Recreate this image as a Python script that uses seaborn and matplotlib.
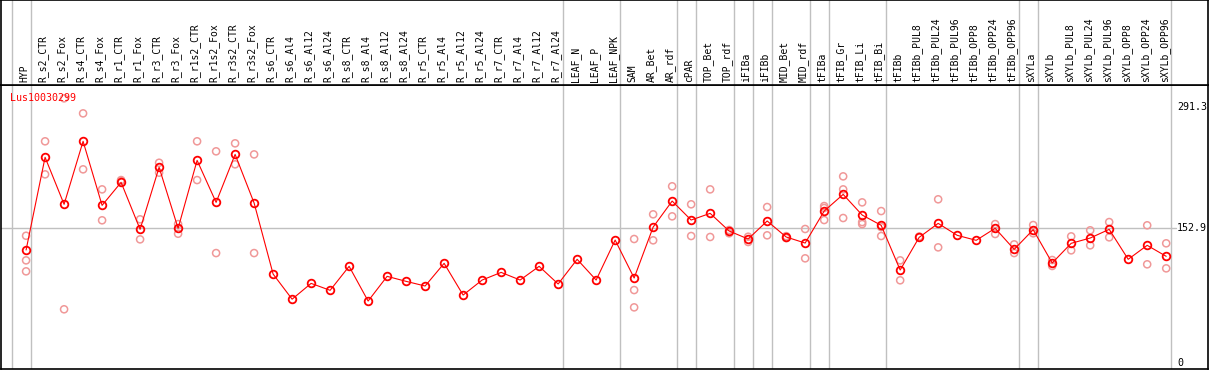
import numpy as np
import pandas as pd
import matplotlib
matplotlib.use("Agg")
import matplotlib.pyplot as plt
import seaborn as sns

title = "Lus10030299"
categories = ["HYP", "R_s2_CTR", "R_s2_Fox", "R_s4_CTR", "R_s4_Fox", "R_r1_CTR", "R_r1_Fox",
              "R_r3_CTR", "R_r3_Fox", "R_r1s2_CTR", "R_r1s2_Fox", "R_r3s2_CTR", "R_r3s2_Fox",
              "R_s6_CTR", "R_s6_Al4", "R_s6_Al12", "R_s6_Al24", "R_s8_CTR", "R_s8_Al4",
              "R_s8_Al12", "R_s8_Al24", "R_r5_CTR", "R_r5_Al4", "R_r5_Al12", "R_r5_Al24",
              "R_r7_CTR", "R_r7_Al4", "R_r7_Al12", "R_r7_Al24", "LEAF_N", "LEAF_P", "LEAF_NPK",
              "SAM", "AR_Bet", "AR_rdf", "cPAR", "TOP_Bet", "TOP_rdf", "iFIBa", "iFIBb",
              "MID_Bet", "MID_rdf", "tFIBa", "tFIB_Gr", "tFIB_Li", "tFIB_Bi", "tFIBb",
              "tFIBb_PUL8", "tFIBb_PUL24", "tFIBb_PUL96", "tFIBb_OPP8", "tFIBb_OPP24",
              "tFIBb_OPP96", "sXYLa", "sXYLb", "sXYLb_PUL8", "sXYLb_PUL24", "sXYLb_PUL96",
              "sXYLb_OPP8", "sXYLb_OPP24", "sXYLb_OPP96"]

means = [128.2, 233.7, 180.2, 251.9, 179.0, 205.2, 151.7, 222.3, 152.9, 230.2, 182.4, 237.0, 181.7,
         100.8, 72.2, 90.2, 82.3, 109.6, 70.1, 98.2, 92.5, 87.2, 113.0, 76.9, 94.0,
         102.7, 94.0, 109.6, 89.5, 117.6, 94.0, 139.5,
         96.3, 154.3, 183.9, 162.3, 169.9, 149.8, 140.7, 161.2, 143.0, 136.1,
         172.5, 191.5, 168.0, 156.3, 105.4, 142.6, 158.5, 144.9, 139.2, 152.9, 128.9,
         151.3, 113.4, 135.8, 141.8, 151.7, 117.6, 133.5, 121.0]

replicates = [
    [144.4, 116.4, 103.9], [251.9, 214.3], [300.8, 60.7], [283.7, 220.0], [197.2, 162.0],
    [207.8, 206.7], [163.1, 140.3], [227.5, 216.2], [157.7, 146.7], [251.9, 207.8],
    [240.5, 124.7], [249.6, 225.7], [237.0, 124.7],
    [], [], [], [], [], [], [], [], [], [], [], [], [], [], [], [], [], [], [],
    [140.7, 82.6, 62.9], [168.8, 139.2], [200.7, 166.5], [180.2, 144.1], [197.2, 143.0],
    [147.2, 151.0], [143.3, 137.3], [177.1, 144.9], [141.8, 144.0], [152.1, 118.7],
    [178.2, 162.3, 176.0], [212.0, 197.2, 164.6], [182.4, 160.0, 157.7], [172.5, 154.3, 144.1],
    [116.4, 93.7], [143.5], [185.9, 131.2], [], [], [157.7, 146.4], [134.6, 124.7],
    [156.6, 147.2], [116.8, 110.0], [143.7, 127.8], [150.6, 133.5], [160.0, 142.6], [],
    [156.3, 111.9], [135.8, 107.3]]

separators_after = [-1, 0, 28, 31, 34, 35, 37, 38, 39, 41, 42, 45, 52, 53, 60]
ref_values = [291.3, 152.9, 0]
ref_labels = ["291.3", "152.9", "0"]

W, H = 1209, 370
fig = plt.figure(figsize=(W / 100, H / 100), dpi=100)
sns.set_style("white")
plt.rcParams['font.family'] = ['DejaVu Sans Mono', 'DejaVu Sans']

def fx(px):
    return px / W

def fy(py):
    return 1 - py / H

ax = fig.add_axes([fx(1), fy(369.3), fx(1207), (369.3 - 85) / H])
hx = fig.add_axes([fx(1), fy(85), fx(1207), 85 / H])

xlim = (-1.32, 62.2)
ylim = (-7.6, 316.0)

x_idx = np.arange(len(categories))
df_mean = pd.DataFrame({"x": x_idx, "value": means, "cat": categories})
rep_x, rep_v = [], []
for i, reps in enumerate(replicates):
    for v in reps:
        rep_x.append(i)
        rep_v.append(v)
df_rep = pd.DataFrame({"x": rep_x, "value": rep_v})

sep_off = 0.25
for a in (ax, hx):
    for s in separators_after:
        a.axvline(s + sep_off, color="#c0c0c0", lw=1.0, zorder=0)

ax.axhline(ref_values[1], xmin=0, xmax=(1176 - 1) / 1207, color="#c0c0c0", lw=1.0, zorder=0)

sns.scatterplot(data=df_rep, x="x", y="value", ax=ax, marker="o", s=26,
                facecolor="none", edgecolor="#f09898", linewidth=1.1, zorder=2, legend=False)
sns.lineplot(data=df_mean, x="x", y="value", ax=ax, color="#ff0000", lw=0.8,
             marker="o", markersize=5.5, markerfacecolor="none", markeredgecolor="#ff0000",
             markeredgewidth=1.3, zorder=3, legend=False)

ax.set_xlim(*xlim)
ax.set_ylim(*ylim)
ax.set_xticks([])
ax.set_yticks([])
ax.set_xlabel("")
ax.set_ylabel("")
for sp in ax.spines.values():
    sp.set_color("black")
    sp.set_linewidth(1.2)

ax.text(fx(9) / fx(1207), 0.972, title, transform=ax.transAxes, color="#ff0000",
        fontsize=7.2, ha="left", va="top")
for v, lab in zip(ref_values, ref_labels):
    ax.text((1177 - 1) / 1207, v, lab, transform=ax.get_yaxis_transform(),
            fontsize=7.2, ha="left", va="center", color="black")

hx.set_xlim(*xlim)
hx.set_ylim(0, 1)
hx.set_xticks([])
hx.set_yticks([])
for sp in hx.spines.values():
    sp.set_color("black")
    sp.set_linewidth(1.2)
for i, lab in enumerate(categories):
    hx.text(i - 0.1, 0.03, lab, rotation=90, ha="center", va="bottom",
            fontsize=7.0, color="black")

fig.savefig("out.png", dpi=100)
